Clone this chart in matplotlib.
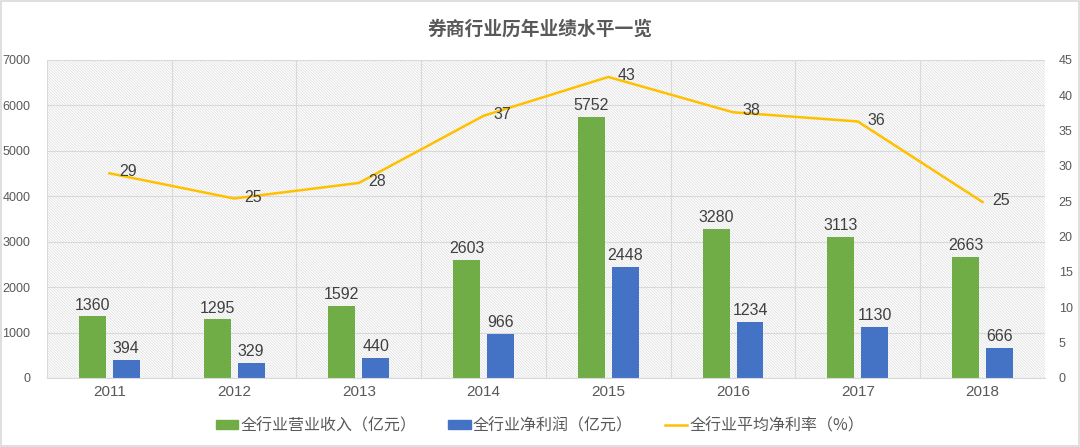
import matplotlib
matplotlib.use("Agg")
import matplotlib.pyplot as plt
from matplotlib.patches import Rectangle
from matplotlib.lines import Line2D
import numpy as np

plt.rcParams['font.family'] = ['Noto Sans CJK SC', 'DejaVu Sans']
plt.rcParams['hatch.linewidth'] = 0.5
plt.rcParams['hatch.color'] = '#dcdcdc'

years = ['2011', '2012', '2013', '2014', '2015', '2016', '2017', '2018']
revenue = [1360, 1295, 1592, 2603, 5752, 3280, 3113, 2663]
profit = [394, 329, 440, 966, 2448, 1234, 1130, 666]
margin = [28.97, 25.4, 27.6, 37.1, 42.6, 37.6, 36.3, 24.9]
margin_labels = ['29', '25', '28', '37', '43', '38', '36', '25']

title = '券商行业历年业绩水平一览'
legend_labels = ['全行业营业收入（亿元）', '全行业净利润（亿元）', '全行业平均净利率（%）']

GREEN = '#70AD47'
BLUE = '#4472C4'
YELLOW = '#FFC000'
TXT = '#595959'
GRID = '#d9d9d9'
NUMFONT = ['Liberation Sans', 'DejaVu Sans']

fig = plt.figure(figsize=(10.8, 4.47), dpi=100)
ax = fig.add_axes([0.0435, 0.1544, 0.924, 0.7114])
ax.set_facecolor('none')

bg = Rectangle((0, 0), 1, 1, transform=ax.transAxes, facecolor='white',
               edgecolor='#dcdcdc', hatch='\\' * 12, linewidth=0, zorder=0)
ax.add_patch(bg)

x = np.arange(len(years))
w = 0.216
off = 0.136
ax.bar(x - off, revenue, w, color=GREEN, zorder=2)
ax.bar(x + off, profit, w, color=BLUE, zorder=2)
for i in range(len(years)):
    ax.text(x[i] - off, revenue[i] + 80, str(revenue[i]), ha='center', va='bottom',
            fontsize=11.5, color='#404040', family=NUMFONT, zorder=5)
    ax.text(x[i] + off, profit[i] + 80, str(profit[i]), ha='center', va='bottom',
            fontsize=11.5, color='#404040', family=NUMFONT, zorder=5)

ax.set_xlim(-0.5, len(years) - 0.5)
ax.set_ylim(0, 7000)
ax.set_yticks(range(0, 7001, 1000))
ax.set_xticks(x)
ax.set_xticklabels(years)
ax.set_xticks(np.arange(-0.5, len(years), 1), minor=True)
ax.grid(axis='y', which='major', color=GRID, linewidth=0.8, zorder=1)
ax.grid(axis='x', which='minor', color=GRID, linewidth=0.8, zorder=1)
ax.set_axisbelow(True)
ax.tick_params(axis='both', which='both', length=0, colors=TXT)
ax.tick_params(axis='y', labelsize=9, pad=12)
ax.tick_params(axis='x', labelsize=11, pad=5)
for lab in ax.get_yticklabels() + ax.get_xticklabels():
    lab.set_family(NUMFONT)
for s in ['top', 'left', 'right']:
    ax.spines[s].set_visible(False)
ax.spines['bottom'].set_color(GRID)

ax2 = ax.twinx()
ax2.set_ylim(0, 45)
ax2.set_yticks(range(0, 46, 5))
ax2.plot(x, margin, color=YELLOW, linewidth=1.8, zorder=3)
for i in range(len(years)):
    ax2.annotate(margin_labels[i], (x[i], margin[i]), xytext=(7, 1), textcoords='offset points',
                 ha='left', va='center', fontsize=11.5, color='#404040', family=NUMFONT)
ax2.tick_params(axis='y', length=0, colors=TXT, labelsize=9, pad=10)
for lab in ax2.get_yticklabels():
    lab.set_family(NUMFONT)
for s in ['top', 'left', 'right', 'bottom']:
    ax2.spines[s].set_visible(False)

fig.text(0.5, 0.935, title, ha='center', va='center', fontsize=13.5,
         fontweight='bold', color=TXT)

handles = [Rectangle((0, 0), 1, 1, color=GREEN), Rectangle((0, 0), 1, 1, color=BLUE),
           Line2D([0], [0], color=YELLOW, linewidth=1.8)]
fig.legend(handles, legend_labels, loc='center', bbox_to_anchor=(0.5, 0.048), ncol=3,
           frameon=False, fontsize=11.5, labelcolor=TXT, handlelength=1.4, handleheight=0.45,
           handletextpad=0.15, columnspacing=2.0)

fig.patches.append(Rectangle((0.001, 0.002), 0.998, 0.996, transform=fig.transFigure,
                             fill=False, edgecolor='#d9d9d9', linewidth=1.2))

fig.savefig('out.png', dpi=100)
